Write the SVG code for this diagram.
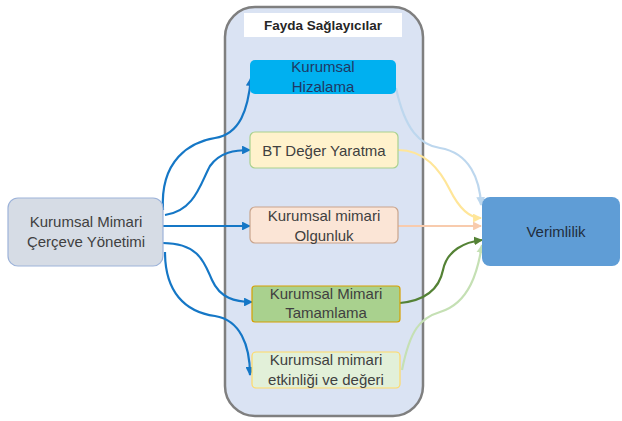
<svg xmlns="http://www.w3.org/2000/svg" width="622" height="421" viewBox="0 0 622 421">
<style>
text{font-family:"Liberation Sans",Arial,sans-serif;font-size:15px;fill:#404040;text-anchor:middle}
.title{font-weight:bold;font-size:13.5px;fill:#262626}
.c{fill:none;stroke-width:2.2}
.blue{stroke:#1577c6}
</style>
<defs>
<marker id="ab" viewBox="0 0 10 10" refX="9" refY="5" markerWidth="4" markerHeight="4" orient="auto"><path d="M0,0L10,5L0,10z" fill="#1577c6"/></marker>
<marker id="alb" viewBox="0 0 10 10" refX="9" refY="5" markerWidth="4" markerHeight="4" orient="auto"><path d="M0,0L10,5L0,10z" fill="#bdd7ee"/></marker>
<marker id="ay" viewBox="0 0 10 10" refX="9" refY="5" markerWidth="4" markerHeight="4" orient="auto"><path d="M0,0L10,5L0,10z" fill="#ffe699"/></marker>
<marker id="ap" viewBox="0 0 10 10" refX="9" refY="5" markerWidth="4" markerHeight="4" orient="auto"><path d="M0,0L10,5L0,10z" fill="#f8cbad"/></marker>
<marker id="adg" viewBox="0 0 10 10" refX="9" refY="5" markerWidth="4" markerHeight="4" orient="auto"><path d="M0,0L10,5L0,10z" fill="#548235"/></marker>
<marker id="alg" viewBox="0 0 10 10" refX="9" refY="5" markerWidth="4" markerHeight="4" orient="auto"><path d="M0,0L10,5L0,10z" fill="#c5e0b4"/></marker>
</defs>

<g id="container">
<rect x="225" y="7" width="198" height="409" rx="30" fill="#dae3f3" stroke="#7f7f7f" stroke-width="2.5"/>
<rect x="244" y="13" width="158" height="24" fill="#ffffff"/>
<text class="title" x="323" y="30">Fayda Sağlayıcılar</text>
</g>

<g id="connectors">
<path class="c blue" marker-end="url(#ab)" d="M163,210 C160,160 190,142 215,138 C240,134 248,110 251,78"/>
<path class="c blue" marker-end="url(#ab)" d="M165,215 C195,211 201,182 210,166 C220,152 235,150 250,150"/>
<path class="c blue" marker-end="url(#ab)" d="M163,226 L250,226"/>
<path class="c blue" marker-end="url(#ab)" d="M163,243 C200,243 205,265 212,280 C220,298 235,302 252,302"/>
<path class="c blue" marker-end="url(#ab)" d="M165,252 C165,292 185,312 215,316 C240,320 250,345 250,375"/>
<path class="c" stroke="#bdd7ee" marker-end="url(#alb)" d="M396,88 C405,130 420,145 440,148 C470,153 480,180 481,205"/>
<path class="c" stroke="#ffe699" marker-end="url(#ay)" d="M398,150 C425,150 440,170 450,190 C460,210 470,218 481,218"/>
<path class="c" stroke="#f8cbad" marker-end="url(#ap)" d="M398,226 L481,226"/>
<path class="c" stroke="#548235" stroke-width="2.6" marker-end="url(#adg)" d="M400,303 C430,300 440,285 443,270 C447,250 465,242 482,240"/>
<path class="c" stroke="#c5e0b4" marker-end="url(#alg)" d="M402,370 C410,330 420,318 440,312 C470,303 478,270 482,245"/>
</g>

<g id="source">
<rect x="8" y="198" width="155" height="68" rx="10" fill="#d6dce5" stroke="#9db3d9" stroke-width="1.2"/>
<text x="86" y="227">Kurumsal Mimari</text>
<text x="86" y="247">Çerçeve Yönetimi</text>
</g>

<g id="hizalama">
<rect x="250" y="60" width="146" height="34" rx="5" fill="#00b0f0"/>
<text x="323" y="72" style="fill:#1f3864">Kurumsal</text>
<text x="323" y="92" style="fill:#1f3864">Hizalama</text>
</g>

<g id="bt">
<rect x="250" y="132" width="148" height="36" rx="5" fill="#fff2cc" stroke="#a9d18e" stroke-width="1.2"/>
<text x="324" y="156">BT Değer Yaratma</text>
</g>

<g id="olgunluk">
<rect x="250" y="207" width="148" height="36" rx="5" fill="#fbe5d6" stroke="#c9a48c" stroke-width="1.2"/>
<text x="324" y="221">Kurumsal mimari</text>
<text x="324" y="241">Olgunluk</text>
</g>

<g id="tamamlama">
<rect x="252" y="286" width="148" height="36" rx="3" fill="#a9d18e" stroke="#d6a000" stroke-width="1.2"/>
<text x="326" y="299">Kurumsal Mimari</text>
<text x="326" y="318">Tamamlama</text>
</g>

<g id="etkinlik">
<rect x="252" y="352" width="148" height="36" rx="4" fill="#e2f0d9" stroke="#ffd966" stroke-width="1.2"/>
<text x="326" y="365">Kurumsal mimari</text>
<text x="326" y="385">etkinliği ve değeri</text>
</g>

<g id="verimlilik">
<rect x="482" y="197" width="138" height="69" rx="8" fill="#5f9dd6"/>
<text x="556" y="237" style="fill:#1f2d3d">Verimlilik</text>
</g>
</svg>
